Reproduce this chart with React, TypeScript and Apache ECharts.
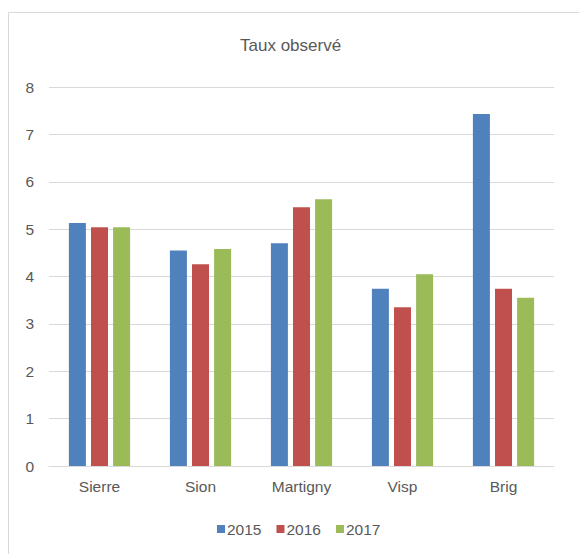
import React, { useEffect, useRef } from "react";
import * as echarts from "echarts";

const categories = ["Sierre", "Sion", "Martigny", "Visp", "Brig"];
const seriesNames = ["2015", "2016", "2017"];
const values2015 = [5.13, 4.55, 4.7, 3.74, 7.43];
const values2016 = [5.04, 4.26, 5.46, 3.35, 3.74];
const values2017 = [5.04, 4.58, 5.63, 4.05, 3.55];
const colors = ["#4F81BD", "#C0504D", "#9BBB59"];
const titleText = "Taux observé";

const FONT = "'Liberation Sans', Arial, sans-serif";
const TXT = "#595959";

export default function App() {
  const ref = useRef<HTMLDivElement>(null);
  useEffect(() => {
    if (!ref.current) return;
    const chart = echarts.init(ref.current, null, { renderer: "svg" });
    const data = [values2015, values2016, values2017];
    chart.setOption({
      animation: false,
      backgroundColor: "#ffffff",
      title: {
        text: titleText,
        left: 240,
        top: 37,
        padding: 0,
        textStyle: { fontFamily: FONT, fontSize: 17, fontWeight: "normal", color: TXT },
      },
      legend: {
        data: seriesNames,
        left: 217,
        top: 521,
        padding: 0,
        itemWidth: 8,
        itemHeight: 8,
        itemGap: 15,
        icon: "rect",
        textStyle: { fontFamily: FONT, fontSize: 15.5, color: TXT, lineHeight: 16, padding: [0, 0, 0, -3] },
      },
      graphic: [
        {
          type: "rect",
          shape: { x: 8.5, y: 12.5, width: 640, height: 640 },
          style: { fill: "none", stroke: "#d9d9d9", lineWidth: 1 },
          silent: true,
          z: -1,
        },
      ],
      grid: { left: 49, right: 25, top: 87, bottom: 88, containLabel: false },
      xAxis: {
        type: "category",
        data: categories,
        axisLine: { show: true, lineStyle: { color: "#d9d9d9", width: 1 } },
        axisTick: { show: false },
        axisLabel: { fontFamily: FONT, fontSize: 15.5, color: TXT, margin: 12 },
      },
      yAxis: {
        type: "value",
        min: 0,
        max: 8,
        interval: 1,
        axisLine: { show: false },
        axisTick: { show: false },
        splitLine: { lineStyle: { color: "#d9d9d9", width: 1 } },
        axisLabel: { fontFamily: FONT, fontSize: 15.5, color: TXT, margin: 15 },
      },
      series: seriesNames.map((name, i) => ({
        name,
        type: "bar",
        data: data[i],
        barWidth: 17,
        barGap: "30%",
        itemStyle: { color: colors[i] },
      })),
    });
    return () => chart.dispose();
  }, []);
  return (
    <div
      ref={ref}
      style={{ position: "absolute", left: 0, top: 0, width: 579, height: 554 }}
    />
  );
}
